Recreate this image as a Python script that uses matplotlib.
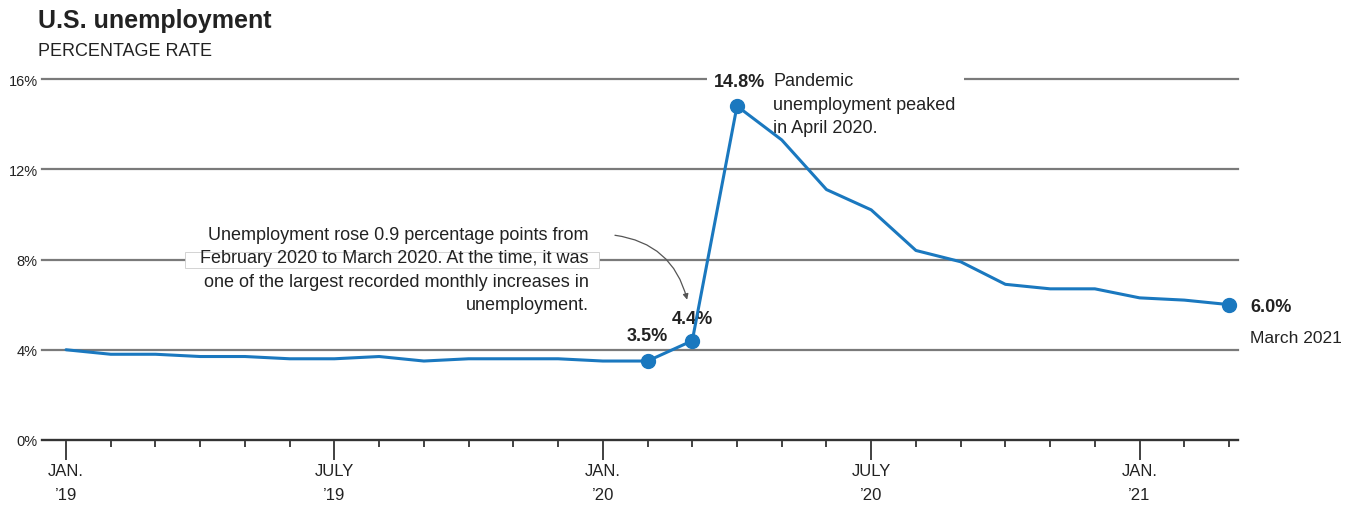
import numpy as np
import matplotlib
matplotlib.use("Agg")
import matplotlib.pyplot as plt
from matplotlib.patches import Rectangle

# ---- data -------------------------------------------------------
months = ["2019-01", "2019-02", "2019-03", "2019-04", "2019-05", "2019-06",
          "2019-07", "2019-08", "2019-09", "2019-10", "2019-11", "2019-12",
          "2020-01", "2020-02", "2020-03", "2020-04", "2020-05", "2020-06",
          "2020-07", "2020-08", "2020-09", "2020-10", "2020-11", "2020-12",
          "2021-01", "2021-02", "2021-03"]
rate = [4.0, 3.8, 3.8, 3.7, 3.7, 3.6, 3.6, 3.7, 3.5, 3.6, 3.6, 3.6,
        3.5, 3.5, 4.4, 14.8, 13.3, 11.1, 10.2, 8.4, 7.9, 6.9, 6.7, 6.7,
        6.3, 6.2, 6.0]
major_labels = {"2019-01": "JAN.\n\u201919", "2019-07": "JULY\n\u201919",
                "2020-01": "JAN.\n\u201920", "2020-07": "JULY\n\u201920",
                "2021-01": "JAN.\n\u201921"}
marked = ["2020-02", "2020-03", "2020-04", "2021-03"]
yticks = [0, 4, 8, 12, 16]

# ---- style ------------------------------------------------------
plt.rcParams['font.family'] = ['Liberation Sans', 'DejaVu Sans']
BLUE = '#1a78bf'
TXT = '#222222'
GRID = '#7a7a7a'

x = np.arange(len(months))
idx = {m: i for i, m in enumerate(months)}

fig = plt.figure(figsize=(13.61, 5.06), dpi=100)
ax = fig.add_axes([42 / 1361, 65 / 506, (1238 - 42) / 1361, (441 - 80) / 506])

ax.plot(x, rate, color=BLUE, lw=2.2, zorder=4, clip_on=False,
        solid_capstyle='round')
mx = [idx[m] for m in marked]
ax.plot(mx, [rate[i] for i in mx], 'o', color=BLUE, ms=10, zorder=5,
        clip_on=False)

ax.set_xlim(-0.537, 26.2)
ax.set_ylim(0, 16)

# y axis / grid
ax.set_yticks(yticks)
ax.set_yticklabels([f"{v}%" for v in yticks])
ax.tick_params(axis='y', length=0, pad=3, labelsize=10.5, labelcolor=TXT)
ax.set_axisbelow(True)
ax.yaxis.grid(True, color=GRID, lw=1.6)
for gl in ax.get_ygridlines():
    gl.set_clip_on(False)
for s in ['top', 'right', 'left']:
    ax.spines[s].set_visible(False)
ax.spines['bottom'].set_color('#333333')
ax.spines['bottom'].set_linewidth(1.6)

# x axis ticks
maj = [idx[m] for m in major_labels]
ax.set_xticks(maj)
ax.set_xticklabels(list(major_labels.values()), linespacing=1.75)
ax.set_xticks(x, minor=True)
ax.tick_params(axis='x', which='major', length=14.5, width=1.3,
               color='#333333', pad=2, labelsize=12, labelcolor=TXT)
ax.tick_params(axis='x', which='minor', length=5, width=1.3,
               color='#333333')

# ---- annotations ------------------------------------------------
feb, mar, apr, last = mx
ax.annotate("3.5%", (feb, rate[feb]), xytext=(0, 12), textcoords='offset points',
            ha='center', va='bottom', fontsize=13, fontweight='bold', color=TXT)
ax.annotate("4.4%", (mar, rate[mar]), xytext=(0, 10), textcoords='offset points',
            ha='center', va='bottom', fontsize=13, fontweight='bold', color=TXT)
ax.annotate("Pandemic\nunemployment peaked\nin April 2020.", (apr, rate[apr]),
            xytext=(26, 24.5), textcoords='offset points', ha='left', va='top',
            fontsize=13, color=TXT, linespacing=1.5, zorder=3,
            bbox=dict(facecolor='white', edgecolor='none', pad=6))
ax.annotate("14.8%", (apr, rate[apr]), xytext=(20, 18),
            textcoords='offset points', ha='right', va='center', fontsize=13,
            fontweight='bold', color=TXT, zorder=3.5,
            bbox=dict(facecolor='white', edgecolor='none', pad=5))
ax.annotate("6.0%", (last, rate[last]), xytext=(15, -1),
            textcoords='offset points', ha='left', va='center', fontsize=13,
            fontweight='bold', color=TXT, annotation_clip=False)
ax.annotate("March 2021", (last, rate[last]), xytext=(15, -24),
            textcoords='offset points', ha='left', va='center', fontsize=12.5,
            color=TXT, annotation_clip=False)

# note about the March jump
ax.add_patch(Rectangle((2.66, 7.62), 9.26, 0.71, facecolor='white',
                       edgecolor='#cccccc', lw=0.6, zorder=2))
ax.text(11.69, 9.47,
        "Unemployment rose 0.9 percentage points from\n"
        "February 2020 to March 2020. At the time, it was\n"
        "one of the largest recorded monthly increases in\n"
        "unemployment.",
        ha='right', va='top', fontsize=13, color=TXT, linespacing=1.47,
        zorder=3)
ax.annotate("", xy=(13.9, 6.1), xytext=(12.21, 9.09),
            arrowprops=dict(arrowstyle='-|>', color='#555555', lw=0.9,
                            mutation_scale=8,
                            connectionstyle='arc3,rad=-0.35'),
            zorder=3)

# titles
fig.text(38 / 1361, 1 - 21 / 506, "U.S. unemployment", fontsize=18,
         fontweight='bold', color=TXT, va='center', ha='left')
fig.text(38 / 1361, 1 - 52 / 506, "PERCENTAGE RATE", fontsize=13,
         color=TXT, va='center', ha='left')

fig.savefig("out.png", dpi=100)
